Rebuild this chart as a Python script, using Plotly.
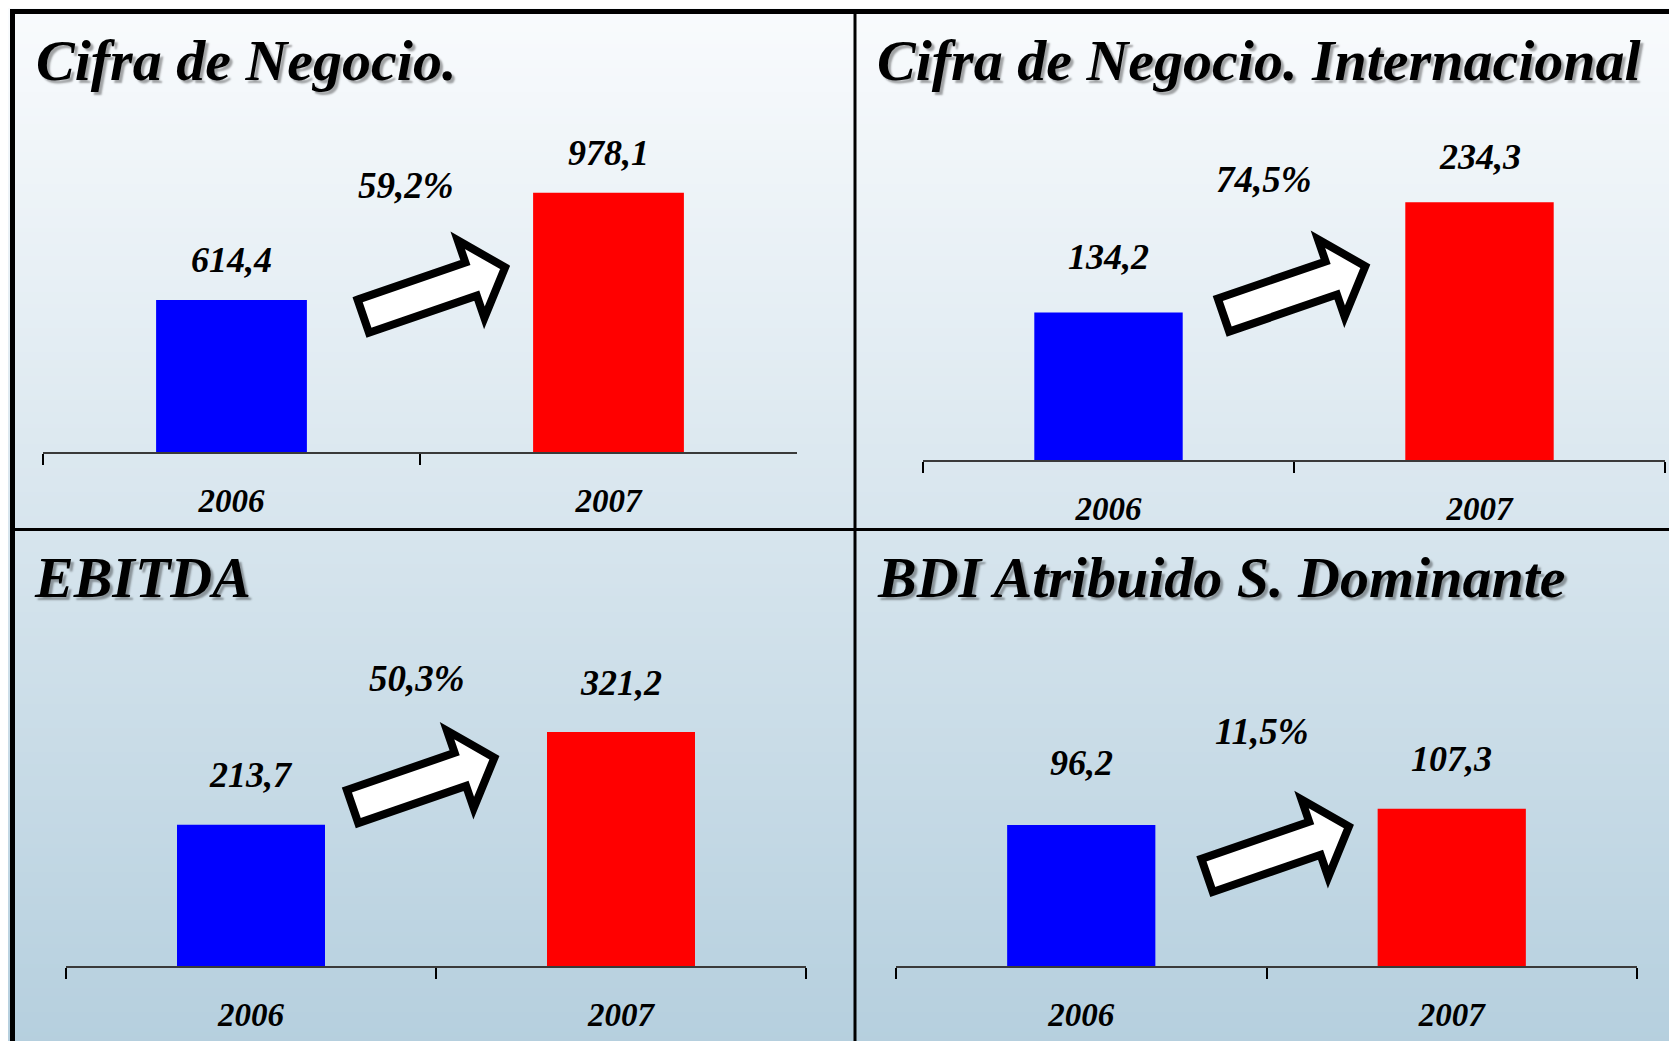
import math

import plotly.graph_objects as go

# ---- data -----------------------------------------------------------------
titles = [
    "Cifra de Negocio.",
    "Cifra de Negocio. Internacional",
    "EBITDA",
    "BDI Atribuido S. Dominante",
]
years = ["2006", "2007"]
values_2006 = [614.4, 134.2, 213.7, 96.2]
values_2007 = [978.1, 234.3, 321.2, 107.3]
growth = ["59,2%", "74,5%", "50,3%", "11,5%"]

# ---- layout / style -------------------------------------------------------
W, H = 1677, 1041
OFF = 8  # page body margin: screen px -> figure px
BLUE, RED = "#0000FF", "#FF0000"
FONT = "Liberation Serif, Times New Roman, serif"
BG_TOP, BG_BOTTOM = (249, 251, 253), (181, 207, 222)

# pixel geometry (screen coords) for each panel; gaps = label lift per bar
PANELS = [
    dict(axis_x=(43, 797), axis_y=452, yrange=(100, 1183.6), gaps=(27, 27),
         growth_xy=(406, 199), title_xy=(34, 82), tail=(359.5, 317.5)),
    dict(axis_x=(923, 1665), axis_y=460, yrange=(0, 291), gaps=(42, 32),
         growth_xy=(1264, 193), title_xy=(875, 82), tail=(1219.7, 316.4)),
    dict(axis_x=(66, 806), axis_y=966, yrange=(50, 421), gaps=(37, 36),
         growth_xy=(417, 692), title_xy=(32, 599), tail=(348.8, 807.8)),
    dict(axis_x=(896, 1637), axis_y=966, yrange=(0, 218.5), gaps=(49, 37),
         growth_xy=(1262, 745), title_xy=(875, 599), tail=(1203.3, 876.7)),
]
PLOT_H = 320  # pixel height of each y domain


def px_x(x):
    return (x - OFF) / W


def px_y(y):
    return 1 - (y - OFF) / H


def fmt(v):
    return f"{v:.1f}".replace(".", ",")


def block_arrow(tail, angle_deg=19.0):
    """Fat block arrow path (paper coords) starting at tail, pointing up-right."""
    a = math.radians(angle_deg)
    ux, uy = math.cos(a), -math.sin(a)
    px_, py_ = -uy, ux  # perpendicular
    tx, ty = tail
    start, head_base, tip = 4, 118, 154
    shaft, head = 17.5, 41

    def pt(along, off):
        x = tx + ux * along + px_ * off
        y = ty + uy * along + py_ * off
        return f"{px_x(x):.5f},{px_y(y):.5f}"

    pts = [
        pt(start, -shaft), pt(head_base, -shaft), pt(head_base, -head),
        pt(tip, 0), pt(head_base, head), pt(head_base, shaft), pt(start, shaft),
    ]
    return "M " + " L ".join(pts) + " Z"


fig = go.Figure()
shapes = []
annotations = []

# background gradient, drawn as thin strips over the whole paper
step = 4
for y0 in range(0, H + OFF, step):
    t = min(1.0, (y0 + step / 2) / H)
    c = tuple(round(BG_TOP[k] + (BG_BOTTOM[k] - BG_TOP[k]) * t) for k in range(3))
    shapes.append(dict(
        type="rect", xref="paper", yref="paper", layer="below",
        x0=0, x1=1, y0=1 - (y0 + step) / H, y1=1 - y0 / H,
        fillcolor=f"rgb{c}", line_width=0,
    ))

label_font = dict(family=FONT, size=36, color="#000", weight="bold", style="italic")

for i, p in enumerate(PANELS):
    suffix = "" if i == 0 else str(i + 1)
    vals = [values_2006[i], values_2007[i]]
    fig.add_trace(go.Bar(
        x=years, y=vals, width=0.4,
        marker=dict(color=[BLUE, RED], line_width=0),
        xaxis="x" + suffix, yaxis="y" + suffix,
        showlegend=False, hoverinfo="skip",
    ))
    ax0, ax1 = p["axis_x"]
    fig.update_layout({
        "xaxis" + suffix: dict(
            domain=[px_x(ax0), px_x(ax1)], anchor="y" + suffix,
            type="category", range=[-0.5, 1.5], fixedrange=True,
            showline=True, linecolor="#3a3a3a", linewidth=1.5,
            ticks="outside", tickson="boundaries", ticklen=11,
            tickcolor="#000", tickwidth=1.5, ticklabelstandoff=19,
            showgrid=False, zeroline=False,
            tickfont=dict(family=FONT, size=33, color="#000",
                          weight="bold", style="italic"),
        ),
        "yaxis" + suffix: dict(
            domain=[px_y(p["axis_y"]), px_y(p["axis_y"] - PLOT_H)],
            anchor="x" + suffix, range=list(p["yrange"]), visible=False,
            fixedrange=True,
        ),
    })

    # value labels over each bar (category index as x position)
    for j, v in enumerate(vals):
        annotations.append(dict(
            x=j, y=v, xref="x" + suffix, yref="y" + suffix,
            text=fmt(v), showarrow=False, yanchor="bottom",
            yshift=p["gaps"][j] - 9, font=label_font,
        ))

    # growth percentage
    gx, gy = p["growth_xy"]
    annotations.append(dict(
        x=px_x(gx), y=px_y(gy + 9), xref="paper", yref="paper",
        text=growth[i], showarrow=False, xanchor="center", yanchor="bottom",
        font=dict(label_font, size=37),
    ))

    # panel title with soft drop shadow
    tx, ty = p["title_xy"]
    annotations.append(dict(
        x=px_x(tx), y=px_y(ty + 13), xref="paper", yref="paper",
        text=titles[i], showarrow=False, xanchor="left", yanchor="bottom",
        font=dict(family=FONT, size=58, color="#000", weight="bold",
                  style="italic", shadow="3px 3px 2px rgba(0,0,0,0.35)"),
    ))

    shapes.append(dict(
        type="path", xref="paper", yref="paper", path=block_arrow(p["tail"]),
        fillcolor="#FFFFFF", line=dict(color="#000", width=8),
    ))

# frame lines
frame = [
    ((10, 11.5), (W + OFF, 11.5), 5),
    ((12.5, 9), (12.5, H + OFF), 5),
    ((855, 11.5), (855, H + OFF), 3),
    ((12.5, 529.5), (W + OFF, 529.5), 3),
]
for (x0, y0), (x1, y1), w in frame:
    shapes.append(dict(
        type="line", xref="paper", yref="paper",
        x0=px_x(x0), y0=px_y(y0), x1=px_x(x1), y1=px_y(y1),
        line=dict(color="#000", width=w),
    ))

fig.update_layout(
    width=W, height=H,
    margin=dict(l=0, r=0, t=0, b=0),
    paper_bgcolor="#ffffff", plot_bgcolor="rgba(0,0,0,0)",
    shapes=shapes, annotations=annotations,
    bargap=0.6,
)

fig.write_html("out.html", config={"displayModeBar": False})
